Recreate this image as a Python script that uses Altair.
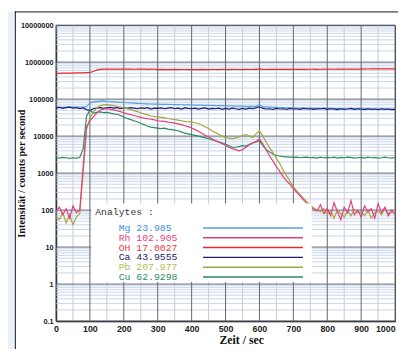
import altair as alt
import pandas as pd

# ---------------- data ----------------
T = list(range(0, 1001, 10))

OH = [500000, 498000, 505000, 502000, 507000, 503000, 510000, 512000, 515000, 520000,
      525000, 560000, 610000, 635000, 645000, 650000, 648000, 652000, 645000, 650000,
      648000, 645000, 650000, 642000, 648000, 645000, 650000, 640000, 645000, 642000,
      630000, 635000, 628000, 632000, 630000, 634000, 629000, 631000, 633000, 630000,
      628000, 632000, 630000, 635000, 630000, 628000, 633000, 631000, 629000, 634000,
      632000, 630000, 635000, 631000, 633000, 630000, 636000, 632000, 634000, 640000,
      655000, 638000, 633000, 636000, 634000, 638000, 635000, 637000, 640000, 636000,
      638000, 640000, 637000, 642000, 639000, 641000, 644000, 640000, 643000, 645000,
      642000, 646000, 643000, 648000, 645000, 650000, 646000, 649000, 652000, 648000,
      650000, 655000, 652000, 656000, 654000, 658000, 655000, 660000, 657000, 662000,
      660000]

CA = [58000, 60000, 56000, 59000, 61000, 57000, 59000, 55000, 58000, 52000,
      50000, 55000, 57000, 59000, 56000, 58000, 60000, 57000, 59000, 55000,
      58000, 56000, 59000, 57000, 55000, 58000, 56000, 59000, 54000, 57000,
      56000, 58000, 55000, 57000, 59000, 55000, 57000, 54000, 58000, 56000,
      55000, 57000, 54000, 56000, 58000, 54000, 56000, 55000, 57000, 53000,
      56000, 54000, 57000, 55000, 53000, 56000, 54000, 57000, 55000, 58000,
      62000, 56000, 54000, 55000, 53000, 56000, 54000, 55000, 53000, 56000,
      54000, 55000, 53000, 56000, 54000, 55000, 53000, 55000, 54000, 56000,
      53000, 55000, 54000, 52000, 55000, 53000, 54000, 56000, 53000, 55000,
      54000, 52000, 55000, 53000, 54000, 52000, 55000, 53000, 54000, 52000,
      53000]

MG = [60000, 60500, 60000, 60500, 61000, 60500, 61000, 60500, 61000, 63000,
      78000, 84000, 86000, 88000, 90000, 86000, 85000, 84000, 83000, 82000,
      81000, 80000, 79000, 78000, 77000, 76000, 75000, 74500, 74000, 73500,
      73000, 72500, 72000, 72000, 71500, 71000, 71000, 70500, 70000, 70000,
      69500, 69000, 69000, 68500, 68000, 68000, 67500, 67000, 67000, 66500,
      66000, 66000, 65500, 65000, 65000, 64500, 64000, 64000, 63500, 64000,
      70000, 62000, 61500, 61000, 60500, 60000, 59500, 59000, 58500, 58000,
      58000, 57500, 57500, 57000, 57000, 57000, 56500, 56500, 56500, 56000,
      56000, 56000, 55500, 55500, 55500, 55000, 55000, 55000, 55000, 54500,
      54500, 54500, 54500, 54000, 54000, 54000, 54000, 54000, 53500, 53500,
      53500]

RH = [95, 120, 75, 110, 60, 130, 85, 100, 1500, 18000,
      26000, 33000, 42000, 50000, 54000, 55000, 53000, 51000, 49000, 46000,
      43000, 40000, 38000, 36000, 34000, 32000, 30500, 29500, 28500, 27500,
      26000, 25500, 25000, 24000, 23500, 22500, 21500, 20500, 19000, 18000,
      16500, 15000, 13500, 12000, 10500, 9500, 8500, 7500, 6800, 6200,
      5600, 5000, 4600, 4300, 4000, 4300, 5000, 5800, 6500, 7200,
      8300, 6200, 4200, 2900, 2100, 1500, 1100, 800, 620, 500,
      380, 300, 240, 190, 150, 125, 105, 95, 140, 80,
      110, 70, 160, 90, 55, 120, 85, 180, 75, 100,
      65, 130, 90, 110, 60, 150, 85, 120, 70, 100,
      75]

PB = [70, 55, 85, 45, 75, 40, 65, 80, 1000, 15000,
      30000, 45000, 58000, 66000, 70000, 71000, 69000, 67000, 64000, 61000,
      58000, 55000, 52000, 49000, 46000, 43000, 40000, 37500, 35000, 34000,
      33000, 32000, 31000, 30000, 29000, 28000, 27000, 26000, 25000, 24500,
      24000, 23000, 22000, 20000, 18000, 16000, 14000, 12500, 11000, 10000,
      9200, 8800, 8500, 9000, 9500, 10500, 11000, 10000, 9200, 11500,
      14000, 10000, 6800, 4800, 3600, 2500, 1800, 1200, 850, 600,
      430, 330, 260, 210, 170, 135, 115, 100, 90, 110,
      75, 95, 60, 100, 80, 65, 95, 70, 105, 85,
      90, 70, 100, 60, 85, 95, 75, 110, 80, 90,
      85]

CU = [2600, 2550, 2650, 2600, 2500, 2600, 2550, 2650, 4500, 35000,
      50000, 42000, 44000, 45000, 43000, 44000, 42000, 40000, 39000, 36000,
      33000, 30000, 28000, 26000, 24500, 22000, 20500, 18500, 17500, 17000,
      16500, 16000, 16500, 15500, 15000, 14500, 14000, 13000, 12000, 11500,
      11000, 10500, 10000, 9500, 9000, 8500, 8000, 7500, 7000, 6500,
      6000, 5500, 5000, 5000, 5200, 5500, 5300, 6000, 6500, 7000,
      7500, 5500, 4300, 3700, 3300, 3000, 2900, 2800, 2750, 2700,
      2650, 2700, 2600, 2650, 2700, 2600, 2650, 2550, 2700, 2600,
      2650, 2600, 2700, 2550, 2650, 2600, 2700, 2650, 2550, 2600,
      2650, 2550, 2700, 2600, 2650, 2550, 2600, 2700, 2600, 2550,
      2650]

SERIES = ["Mg", "Rh", "OH", "Ca", "Pb", "Cu"]
MASSES = ["23.985", "102.905", "17.0027", "43.9555", "207.977", "62.9298"]
LINE_COLORS = ["#55a0e2", "#e2407e", "#e82a2a", "#1c1c78", "#a6a63c", "#2b8a5e"]
TEXT_COLORS = ["#3b8fe6", "#e8407e", "#e83a3a", "#22226e", "#b8b854", "#2b8a5e"]
VALUES = {"Mg": MG, "Rh": RH, "OH": OH, "Ca": CA, "Pb": PB, "Cu": CU}
DRAW_ORDER = ["OH", "Mg", "Ca", "Cu", "Pb", "Rh"]

X_TICKS = list(range(0, 1001, 100))
X_GRID = list(range(0, 1001, 50))
Y_TICKS = [0.1, 1, 10, 100, 1000, 10000, 100000, 1000000, 10000000]
Y_MINOR = [m * d for d in Y_TICKS[:-1] for m in range(2, 10)]

# ---------------- layout ----------------
W, H = 346, 302
xs = alt.Scale(domain=[0, 1000], nice=False, zero=False)
ys = alt.Scale(type="log", domain=[0.1, 10000000], nice=False)
one = pd.DataFrame({"a": [0]})

x_axis = alt.Axis(values=X_TICKS, grid=False, ticks=False, domain=True,
                  domainColor="#111", domainWidth=1.5, labelFlush=False,
                  labelOverlap=False, labelFont="Liberation Sans", labelFontSize=9,
                  labelFontWeight="bold", labelColor="#222", labelPadding=4,
                  labelExpr="format(datum.value, 'd')",
                  labelAlign=alt.expr("datum.value >= 1000 ? 'right' : 'center'"),
                  title="Zeit / sec", titleFont="Liberation Serif", titleFontSize=12,
                  titleFontWeight="bold", titleColor="#111", titleX=189, titleY=23,
                  titleAlign="center", titleBaseline="alphabetic")
y_axis = alt.Axis(values=Y_TICKS, grid=False, ticks=False, domain=True,
                  domainColor="#111", domainWidth=1.5, labelFlush=False,
                  labelOverlap=False,
                  labelExpr="datum.value < 1 ? '0.1' : format(datum.value, 'd')",
                  labelFont="Liberation Sans",
                  labelFontSize=7.5, labelFontWeight="bold", labelColor="#222",
                  labelPadding=3, title="Intensität / counts per second",
                  titleFont="Liberation Serif", titleFontSize=10.5, titleFontWeight="bold",
                  titleColor="#111", titleX=-35, titleY=151, titleAngle=270,
                  titleAlign="center", titleBaseline="middle")

X = lambda: alt.X("t:Q", scale=xs, axis=x_axis)
Y = lambda: alt.Y("v:Q", scale=ys, axis=y_axis)

# panel decorations
strip = alt.Chart(one).mark_rect(color="#e9f0fa").encode(
    x=alt.value(-49), x2=alt.value(-42), y=alt.value(-14), y2=alt.value(H + 40))
border_v = alt.Chart(one).mark_rule(color="#111", strokeWidth=1).encode(
    x=alt.value(-41.5), y=alt.value(-14), y2=alt.value(H + 40))
border_h = alt.Chart(one).mark_rule(color="#111", strokeWidth=1).encode(
    x=alt.value(-42), x2=alt.value(W + 10), y=alt.value(-13.5))

# grid
vg = pd.DataFrame({"t": X_GRID, "major": [v % 100 == 0 for v in X_GRID]})
vminor = alt.Chart(vg[~vg.major]).mark_rule(color="#c2cad6", strokeWidth=1).encode(
    x=X(), y=alt.value(0), y2=alt.value(H))
vmajor = alt.Chart(vg[vg.major]).mark_rule(color="#5f6470", strokeWidth=1).encode(
    x=X(), y=alt.value(0), y2=alt.value(H))
hminor = alt.Chart(pd.DataFrame({"v": Y_MINOR})).mark_rule(color="#c8d5e8", strokeWidth=1).encode(
    y=Y(), x=alt.value(0), x2=alt.value(W))
hmajor = alt.Chart(pd.DataFrame({"v": Y_TICKS})).mark_rule(color="#5f6470", strokeWidth=1).encode(
    y=Y(), x=alt.value(0), x2=alt.value(W))

# data lines
lines = []
for name in DRAW_ORDER:
    df = pd.DataFrame({"t": T, "v": VALUES[name]})
    col = LINE_COLORS[SERIES.index(name)]
    lines.append(
        alt.Chart(df).mark_line(color=col, strokeWidth=1.2).encode(x=X(), y=Y())
    )

# legend box (drawn by hand, like the original)
box = alt.Chart(one).mark_rect(color="white").encode(
    x=alt.value(36), x2=alt.value(261), y=alt.value(182), y2=alt.value(262))
head = alt.Chart(one).mark_text(text="Analytes :", align="left", baseline="middle",
                                font="Liberation Mono", fontSize=10, color="#333").encode(
    x=alt.value(40), y=alt.value(191))
leg = pd.DataFrame({
    "label": [f"{s} {m}" for s, m in zip(SERIES, MASSES)],
    "ly": [207 + 10 * i for i in range(len(SERIES))],
    "tc": TEXT_COLORS,
    "lc": LINE_COLORS,
})
leg_text = alt.Chart(leg).mark_text(align="left", baseline="middle",
                                    font="Liberation Mono", fontSize=10).encode(
    x=alt.value(64), y=alt.Y("ly:Q", scale=None, axis=None),
    text="label:N", fill=alt.Fill("tc:N", scale=None))
leg_rule = alt.Chart(leg).mark_rule(strokeWidth=1.5).encode(
    x=alt.value(150), x2=alt.value(252), y=alt.Y("ly:Q", scale=None, axis=None),
    stroke=alt.Stroke("lc:N", scale=None))

chart = alt.layer(
    strip, border_v, border_h, vminor, hminor, vmajor, hmajor, *lines, box, head, leg_text, leg_rule
).properties(
    width=W, height=H,
    padding={"left": 49, "top": 14, "right": 3, "bottom": 25},
    autosize=alt.AutoSizeParams(type="none"),
).configure(background="white").configure_view(stroke="#3c3f48", strokeWidth=1)

chart.save("out.html", embed_options={"renderer": "svg", "actions": False})
